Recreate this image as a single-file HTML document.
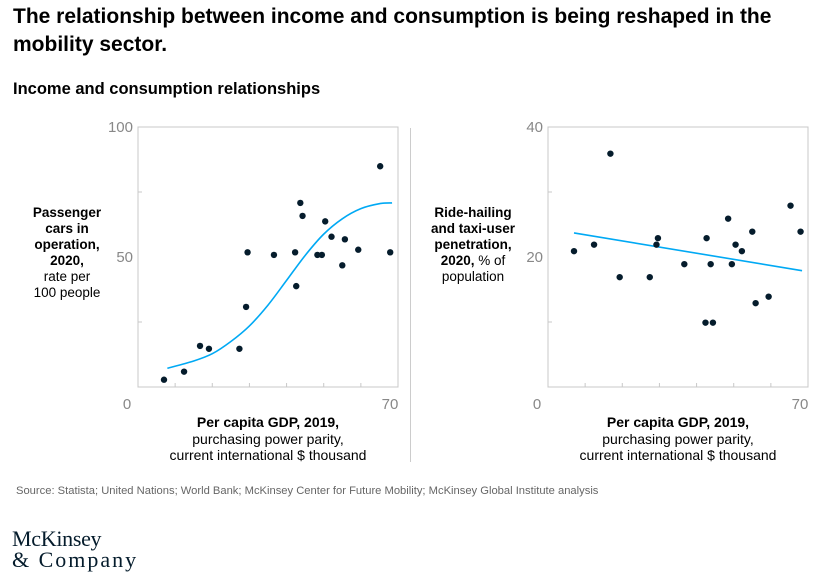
<!DOCTYPE html>
<html><head><meta charset="utf-8"><style>
body{margin:0;width:813px;height:578px;background:#fff;font-family:"Liberation Sans",sans-serif;color:#000;position:relative;overflow:hidden}
.abs{position:absolute}
</style></head><body>
<div class="abs" style="left:13px;top:3px;font-size:21px;font-weight:bold;line-height:28px;width:795px">The relationship between income and consumption is being reshaped in the mobility sector.</div>
<div class="abs" style="left:13px;top:80px;font-size:16.5px;font-weight:bold">Income and consumption relationships</div>
<div class="abs" style="left:24px;top:205px;width:86px;text-align:center;font-size:13.5px;line-height:16px"><b>Passenger cars in operation, 2020,</b><br>rate per<br>100 people</div>
<div class="abs" style="left:424px;top:205px;width:98px;text-align:center;font-size:13.5px;line-height:16px"><b>Ride-hailing and taxi-user penetration, 2020,</b> % of population</div>
<div class="abs" style="left:138px;top:414px;width:260px;text-align:center;font-size:14px;line-height:16.5px"><b>Per capita GDP, 2019,</b><br>purchasing power parity,<br>current international $ thousand</div>
<div class="abs" style="left:548px;top:414px;width:260px;text-align:center;font-size:14px;line-height:16.5px"><b>Per capita GDP, 2019,</b><br>purchasing power parity,<br>current international $ thousand</div>
<div class="abs" style="left:410px;top:128px;width:1px;height:334px;background:#ccc"></div>
<div class="abs" style="left:16px;top:485px;font-size:11.2px;color:#666">Source: Statista; United Nations; World Bank; McKinsey Center for Future Mobility; McKinsey Global Institute analysis</div>
<div class="abs" style="left:12px;top:528px;font-family:'Liberation Serif',serif;font-size:22px;line-height:21px;color:#051c2c;letter-spacing:-0.3px">McKinsey<br><span style="letter-spacing:2px">&amp; Company</span></div>
<svg class="abs" style="left:0;top:0" width="813" height="578" id="svg"></svg>
<script>
const leftX=[7.0,12.4,16.7,19.1,27.3,29.1,29.5,36.6,42.3,42.6,43.7,44.3,48.3,49.5,50.4,52.1,55.0,55.7,59.3,65.2,67.9];
const leftY=[2.8,5.9,15.8,14.7,14.7,30.8,51.8,50.8,51.8,38.8,70.8,65.8,50.8,50.8,63.7,57.8,46.8,56.8,52.8,84.9,51.8];
const leftCurveX=[7.9,15,20,25,30,35,40,45,50,55,60,65,68.4];
const leftCurveY=[7.2,10.0,12.8,17.5,23.5,31.5,41,50.6,58.8,64.7,68.6,70.5,70.8];
const rightX=[7.0,12.4,16.8,19.3,27.4,29.2,29.6,36.7,42.4,42.7,43.8,44.4,48.5,49.5,50.5,52.2,55.0,55.9,59.4,65.3,68.0];
const rightY=[20.9,21.9,35.9,16.9,16.9,21.9,22.9,18.9,9.9,22.9,18.9,9.9,25.9,18.9,21.9,20.9,23.9,12.9,13.9,27.9,23.9];
const rightTrendX=[7,68.4];
const rightTrendY=[23.7,17.9];
const leftYTicks=[0,50,100];
const rightYTicks=[0,20,40];
const svg=document.getElementById('svg');
const NS='http://www.w3.org/2000/svg';
function mk(t,a){const e=document.createElementNS(NS,t);for(const k in a)e.setAttribute(k,a[k]);svg.appendChild(e);return e;}
function panel(x0,ymax,px,py,cx,cy,yt,side){
  const L=x0,R=x0+260,T=127,B=387;
  const sx=v=>L+v/70*260, sy=v=>B-v/ymax*260;
  let e=mk('path',{d:`M${L},${T}H${R}V${B}H${L}Z`,fill:'none',stroke:'#c8c8c8','stroke-width':1});
  
  
  for(let i=1;i<7;i++){const t=mk('line',{x1:sx(i*10),x2:sx(i*10),y1:B,y2:B-4,stroke:'#c8c8c8'});
    
    }
  [0.25,0.75].forEach(f=>{const t=mk('line',{x1:L,x2:L+4,y1:sy(f*ymax),y2:sy(f*ymax),stroke:'#c8c8c8'});
    
    });
  yt.forEach(v=>{if(v===0)return;const t=mk('text',{x:L-5,y:sy(v)+5,'text-anchor':'end','font-size':15,fill:'#888'});t.textContent=v;
    
    });
  let t=mk('text',{x:L-11,y:B+22,'text-anchor':'middle','font-size':15,fill:'#888'});t.textContent='0';
  
  
  t=mk('text',{x:R-8,y:B+22,'text-anchor':'middle','font-size':15,fill:'#888'});t.textContent='70';
  
  
  let d='';
  if(cx.length>2){
    const P=cx.map((v,i)=>[sx(v),sy(cy[i])]);
    d='M'+P[0];
    for(let i=0;i<P.length-1;i++){const p0=P[i-1]||P[i],p1=P[i],p2=P[i+1],p3=P[i+2]||p2;
      d+=`C${p1[0]+(p2[0]-p0[0])/6},${p1[1]+(p2[1]-p0[1])/6} ${p2[0]-(p3[0]-p1[0])/6},${p2[1]-(p3[1]-p1[1])/6} ${p2[0]},${p2[1]}`;}
  } else d=`M${sx(cx[0])},${sy(cy[0])}L${sx(cx[1])},${sy(cy[1])}`;
  e=mk('path',{d,fill:'none',stroke:'#00a9f4','stroke-width':1.6});
  
  
  px.forEach((v,i)=>{const c=mk('circle',{cx:sx(v),cy:sy(py[i]),r:3.2,fill:'#051c2c'});
    
    });
}
panel(138,100,leftX,leftY,leftCurveX,leftCurveY,leftYTicks,'left');
panel(548,40,rightX,rightY,rightTrendX,rightTrendY,rightYTicks,'right');
</script>
</body></html>
